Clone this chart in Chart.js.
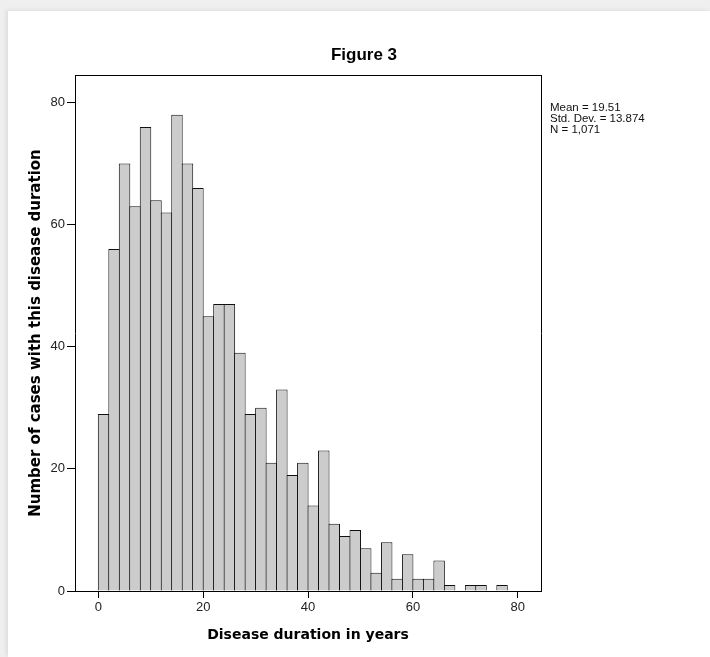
<!DOCTYPE html>
<html lang="en">
<head>
    <meta charset="UTF-8">
    <title>Figure 3</title>
    <style>
        body { margin: 0; background: #efefef; }
        /* white sheet the SPSS output sits on */
        #sheet {
            position: absolute; left: 8px; top: 11px; right: 0; bottom: 0;
            background: #fff;
            box-shadow: -2px -1px 4px rgba(0, 0, 0, 0.08);
        }
        #histChart { position: absolute; left: 0; top: 0; }
    </style>
    <script src="https://cdn.jsdelivr.net/npm/chart.js"></script>
</head>
<body>
    <div id="sheet"></div>
    <canvas id="histChart" width="710" height="657"></canvas>
    <script>
        // histogram bins, 2 years wide, start of each bin
        const binStarts = [0, 2, 4, 6, 8, 10, 12, 14, 16, 18, 20, 22, 24, 26, 28, 30, 32, 34, 36, 38,
                           40, 42, 44, 46, 48, 50, 52, 54, 56, 58, 60, 62, 64, 66, 68, 70, 72, 74, 76];
        // number of cases in each bin
        const caseCounts = [29, 56, 70, 63, 76, 64, 62, 78, 70, 66, 45, 47, 47, 39, 29, 30, 21, 33, 19, 21,
                            14, 23, 11, 9, 10, 7, 3, 8, 2, 6, 2, 2, 5, 1, 0, 1, 1, 0, 1];
        const binWidth = 2;
        const xTicks = [0, 20, 40, 60, 80];
        const yTicks = [0, 20, 40, 60, 80];
        const statsLines = ['Mean = 19.51', 'Std. Dev. = 13.874', 'N = 1,071'];

        const tickFont = { family: 'Liberation Sans, Arial, sans-serif', size: 13 };

        // draws the Mean / Std. Dev. / N box to the right of the plot
        const statsText = {
            id: 'statsText',
            afterDraw(chart) {
                const ctx = chart.ctx;
                const area = chart.chartArea;
                ctx.save();
                ctx.fillStyle = '#111';
                ctx.font = '11.5px "Liberation Sans", Arial, sans-serif';
                ctx.textAlign = 'left';
                ctx.textBaseline = 'alphabetic';
                statsLines.forEach((line, i) => {
                    ctx.fillText(line, area.right + 9, area.top + 36 + i * 11);
                });
                ctx.restore();
            }
        };

        const ctx = document.getElementById('histChart').getContext('2d');
        const histChart = new Chart(ctx, {
            type: 'bar',
            data: {
                datasets: [{
                    label: 'Cases',
                    data: binStarts.map((s, i) => ({ x: s + binWidth / 2, y: caseCounts[i] })),
                    backgroundColor: '#cccccc',
                    borderColor: '#111',
                    borderWidth: 1,
                    barPercentage: 1.095, // 1px overlap so neighbouring bars share an edge
                    categoryPercentage: 1
                }]
            },
            options: {
                responsive: false,
                animation: false,
                layout: { padding: { left: 18, right: 0, top: 0, bottom: 0 } },
                scales: {
                    x: {
                        type: 'linear',
                        position: 'bottom',
                        offset: false,
                        min: -4.45,
                        max: 84.43,
                        afterFit: (scale) => { scale.height = 66; },
                        afterBuildTicks: (scale) => { scale.ticks = xTicks.map(v => ({ value: v })); },
                        ticks: { color: '#222', font: tickFont, padding: 2, maxRotation: 0 },
                        grid: { offset: false, drawOnChartArea: false, drawTicks: true, tickLength: 7, color: '#000' },
                        border: { display: true, color: '#000', width: 1 },
                        title: {
                            display: true,
                            text: 'Disease duration in years',
                            color: '#000',
                            font: { family: 'DejaVu Sans, sans-serif', size: 14, weight: 'bold' },
                            padding: { top: 0, bottom: 13.6 }
                        }
                    },
                    y: {
                        type: 'linear',
                        position: 'left',
                        min: 0,
                        max: 84.5,
                        afterFit: (scale) => { scale.width = 57; },
                        afterBuildTicks: (scale) => { scale.ticks = yTicks.map(v => ({ value: v })); },
                        ticks: { color: '#222', font: tickFont, padding: 2 },
                        grid: { drawOnChartArea: false, drawTicks: true, tickLength: 8, color: '#000' },
                        border: { display: true, color: '#000', width: 1 },
                        title: {
                            display: true,
                            text: 'Number of cases with this disease duration',
                            color: '#000',
                            font: { family: 'DejaVu Sans, sans-serif', size: 15, weight: 'bold' },
                            padding: { top: 9, bottom: 0 }
                        }
                    },
                    // top and right edges of the frame
                    x2: {
                        type: 'linear',
                        position: 'top',
                        offset: false,
                        afterFit: (scale) => { scale.height = 0; },
                        ticks: { display: false },
                        grid: { display: false },
                        border: { display: true, color: '#000', width: 1 }
                    },
                    y2: {
                        type: 'linear',
                        position: 'right',
                        afterFit: (scale) => { scale.width = 169; },
                        ticks: { display: false },
                        grid: { display: false },
                        border: { display: true, color: '#000', width: 1 }
                    }
                },
                plugins: {
                    legend: { display: false },
                    tooltip: { enabled: false },
                    title: {
                        display: true,
                        text: 'Figure 3',
                        color: '#000',
                        font: { family: 'Liberation Sans, Arial, sans-serif', size: 17, weight: 'bold' },
                        padding: { top: 45.5, bottom: 9.1 }
                    }
                }
            },
            plugins: [statsText]
        });
    </script>
</body>
</html>
